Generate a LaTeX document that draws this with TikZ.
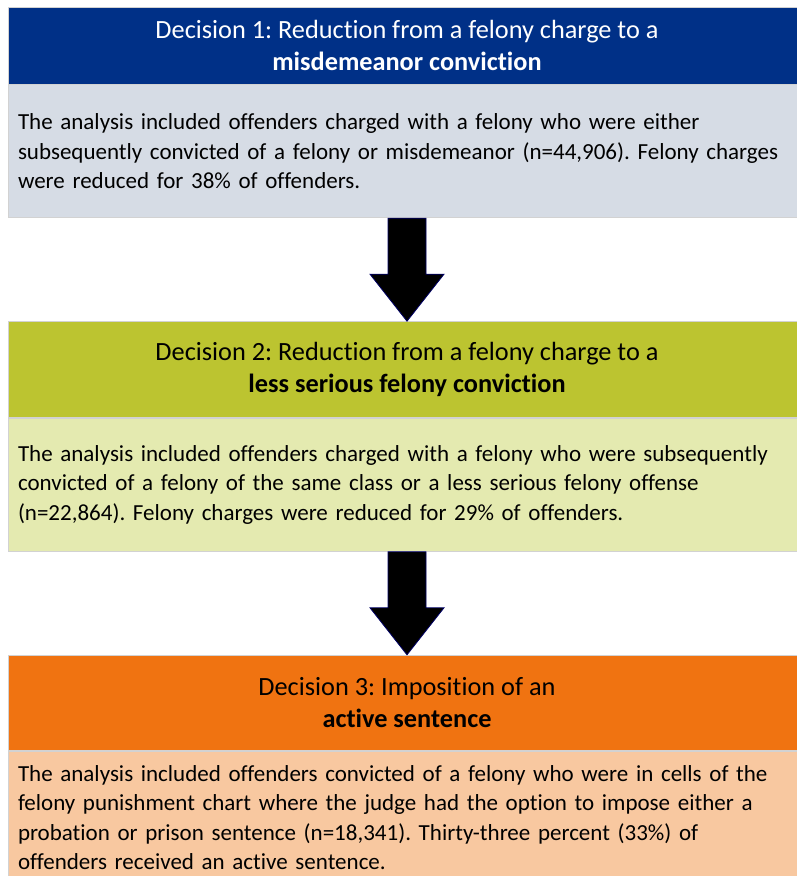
\documentclass[tikz,border=0pt]{standalone}
\usepackage{fontspec}
\setmainfont{Carlito}[Ligatures=NoCommon]
\usepackage{xcolor}
\usetikzlibrary{positioning,calc}
\definecolor{hdrblue}{HTML}{003087}
\definecolor{bodyblue}{HTML}{D6DCE5}
\definecolor{hdrolive}{HTML}{BCC430}
\definecolor{bodyolive}{HTML}{E4EAB0}
\definecolor{hdrorange}{HTML}{F07311}
\definecolor{bodyorange}{HTML}{F8C8A0}
\frenchspacing

\begin{document}
\begin{tikzpicture}[x=1pt, y=1pt]
                % head = decision title, body = description below it
                \tikzstyle{every node}=[draw=gray!35, line width=0.8pt, minimum width=798pt, inner sep=0pt]
                \tikzstyle{head}=[align=center, font=\fontsize{26.3}{32}\selectfont]
                \tikzstyle{body}=[align=left, text width=778pt, minimum height=133pt, inner xsep=10pt, font=\fontsize{23}{29.5}\selectfont]
                \tikzstyle{bigarrow}=[fill=black, draw=blue!40!black, line width=0.8pt, line join=miter]
                \useasboundingbox (0,0) rectangle (797,-876);

                \node[head, fill=hdrblue, text=white, minimum height=77pt] (h1) at (407,-45.5)
                        {Decision 1: Reduction from a felony charge to a\\ \textbf{misdemeanor conviction}};
                \node[body, fill=bodyblue, below=0pt of h1] (b1)
                        {The analysis included offenders charged with a felony who were either\\
                        subsequently convicted of a felony or misdemeanor (n=44,906). Felony charges\\
                        were reduced for 38\% of offenders.};

                \node[head, fill=hdrolive, minimum height=96pt, below=103pt of b1] (h2)
                        {Decision 2: Reduction from a felony charge to a\\ \textbf{less serious felony conviction}};
                \node[body, fill=bodyolive, below=0pt of h2] (b2)
                        {The analysis included offenders charged with a felony who were subsequently\\
                        convicted of a felony of the same class or a less serious felony offense\\
                        (n=22,864). Felony charges were reduced for 29\% of offenders.};

                \node[head, fill=hdrorange, minimum height=95pt, below=103pt of b2] (h3)
                        {Decision 3: Imposition of an\\ \textbf{active sentence}};
                \node[body, fill=bodyorange, minimum height=133pt, below=0pt of h3] (b3)
                        {The analysis included offenders convicted of a felony who were in cells of the\\
                        felony punishment chart where the judge had the option to impose either a\\
                        probation or prison sentence (n=18,341). Thirty-three percent (33\%) of\\
                        offenders received an active sentence.};

                % block arrows
                \draw[bigarrow] ($(b1.south)+(-19,0)$) -- ($(h2.north)+(-19,47)$) -- ($(h2.north)+(-37,47)$) --
                        (h2.north) -- ($(h2.north)+(37,47)$) -- ($(h2.north)+(19,47)$) -- ($(b1.south)+(19,0)$) -- cycle;

                \draw[bigarrow] ($(b2.south)+(-19,0)$) -- ($(h3.north)+(-19,47)$) -- ($(h3.north)+(-37,47)$) --
                        (h3.north) -- ($(h3.north)+(37,47)$) -- ($(h3.north)+(19,47)$) -- ($(b2.south)+(19,0)$) -- cycle;

        \end{tikzpicture}
\end{document}
